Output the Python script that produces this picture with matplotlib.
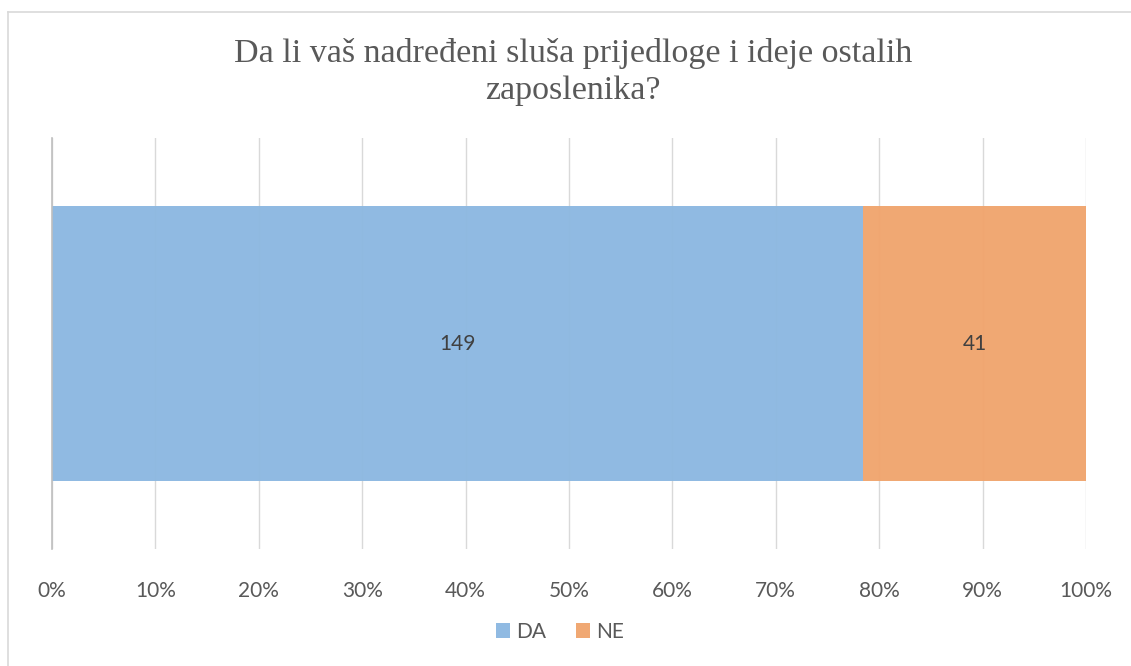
import numpy as np
import matplotlib.pyplot as plt
from matplotlib.lines import Line2D
from matplotlib.ticker import FuncFormatter

# data
categories = ["DA", "NE"]
counts = [149, 41]
colors = ["#8DB8E1", "#F0A56E"]
title = "Da li vaš nadređeni sluša prijedloge i ideje ostalih\nzaposlenika?"

total = sum(counts)
shares = [c / total for c in counts]

plt.rcParams.update({"font.family": ["Lato", "DejaVu Sans"], "font.size": 15})
fig = plt.figure(figsize=(11.31, 6.66), dpi=100)
ax = fig.add_axes([52 / 1131, 1 - 549 / 666, (1086 - 52) / 1131, (549 - 138) / 666])

left = 0.0
for cat, share, n, col in zip(categories, shares, counts, colors):
    ax.barh(0, share, left=left, height=0.67, color=col, alpha=0.97,
            edgecolor="none", label=cat, zorder=2)
    ax.text(left + share / 2, 0, f"{n}", ha="center", va="center",
            fontsize=15, color="#404040", zorder=3)
    left += share

ax.set_xlim(0, 1)
ax.set_ylim(-0.5, 0.5)
ax.set_xticks(np.arange(0, 1.01, 0.1))
ax.xaxis.set_major_formatter(FuncFormatter(lambda x, _: f"{x * 100:.0f}%"))
ax.set_yticks([])
ax.tick_params(axis="x", length=0, pad=23, labelsize=15, labelcolor="#595959")
ax.grid(True, axis="x", color="#D9D9D9", lw=1.0, zorder=1)
for s in ["top", "right", "bottom"]:
    ax.spines[s].set_visible(False)
ax.spines["left"].set_color("#BFBFBF")
ax.spines["left"].set_linewidth(1.2)
ax.spines["left"].set_zorder(4)

fig.text(573 / 1131, 1 - 72 / 666, title, ha="center", va="center",
         family="Liberation Serif", fontsize=24.5, color="#595959", linespacing=1.3)

ax.legend(loc="center", bbox_to_anchor=(560 / 1131, 1 - 632 / 666),
          bbox_transform=fig.transFigure, ncol=2, frameon=False, fontsize=15,
          handlelength=0.7, handleheight=0.7, handletextpad=0.3,
          columnspacing=1.4, labelcolor="#595959")

# chart border (top and left edges visible)
fig.add_artist(Line2D([7.5 / 1131, 1.0], [1 - 11.5 / 666] * 2,
                      transform=fig.transFigure, color="#D9D9D9", lw=1.2))
fig.add_artist(Line2D([7.5 / 1131] * 2, [0.0, 1 - 11.5 / 666],
                      transform=fig.transFigure, color="#D9D9D9", lw=1.2))

fig.savefig("out.png", dpi=100)
